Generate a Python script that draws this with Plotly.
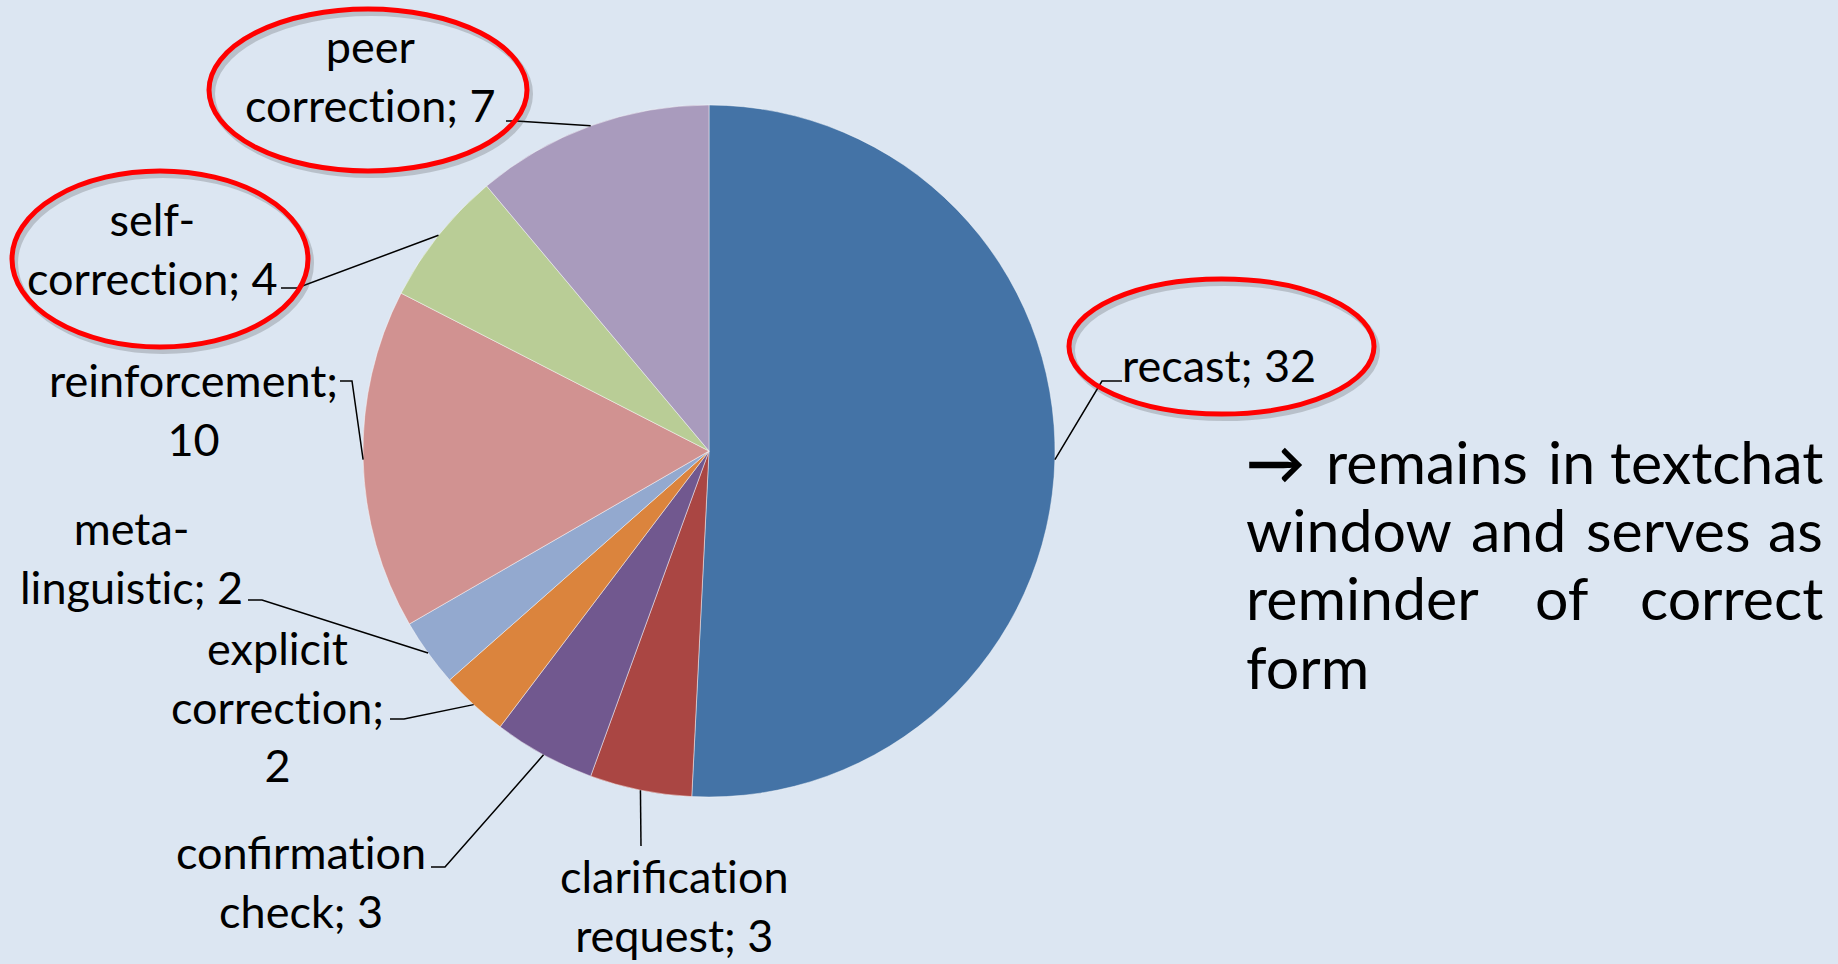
"""Pie chart of corrective feedback types in a textchat, with leader-line labels."""

import math
import plotly.graph_objects as go

# Data: feedback types in pie order (clockwise from 12 o'clock)
categories = ["recast", "clarification request", "confirmation check",
              "explicit correction", "meta-linguistic", "reinforcement",
              "self-correction", "peer correction"]
counts = [32, 3, 3, 2, 2, 10, 4, 7]
slice_colors = ["#4473A6", "#AA4643", "#71588F", "#DB843D",
                "#93A9CF", "#D19291", "#B9CD96", "#A99BBD"]

# how each data label is broken over lines ({n} = count)
label_formats = {
    "recast": "recast; {n}",
    "clarification request": "clarification<br>request; {n}",
    "confirmation check": "confirmation<br>check; {n}",
    "explicit correction": "explicit<br>correction;<br>{n}",
    "meta-linguistic": "meta-<br>linguistic; {n}",
    "reinforcement": "reinforcement;<br>{n}",
    "self-correction": "self-<br>correction; {n}",
    "peer correction": "peer<br>correction; {n}",
}
circled = ["peer correction", "self-correction", "recast"]

note_lines = [["\u2192", "remains", "in", "textchat"],
              ["window", "and", "serves", "as"],
              ["reminder", "of", "correct"],
              ["form"]]

# ---- layout (pixels) ----
W, H = 1838, 964
CX, CY, R = 709, 451, 346
BG = "#DCE6F2"
FONT = "Lato, Carlito, Calibri, sans-serif"

# label centre and the short horizontal tick the leader starts from
label_place = {
    "recast": dict(xy=(1219, 365), tick=(1122, 1102, 381)),
    "clarification request": dict(xy=(674, 905), tick=(641, 641, 846)),
    "confirmation check": dict(xy=(301, 881), tick=(431, 445, 867)),
    "explicit correction": dict(xy=(277, 706), tick=(390, 404, 719)),
    "meta-linguistic": dict(xy=(131, 557), tick=(248, 262, 600)),
    "reinforcement": dict(xy=(193, 409), tick=(340, 352, 381)),
    "self-correction": dict(xy=(152, 249), tick=(281, 297, 288)),
    "peer correction": dict(xy=(370, 76), tick=(506, 516, 121)),
}
ellipse_box = {
    "peer correction": (209, 9, 527, 171),
    "self-correction": (12, 171, 308, 347),
    "recast": (1069, 279, 1374, 414),
}
note_y = [461, 529, 597, 666]
note_left, note_right = 1244, 1825
note_mid_x = [[1427, 1571], [1518, 1668], [1562], []]


def px(x, y):
    return x / W, 1 - y / H


def no_lig(s):
    # keep Lato from joining "ti" into a ligature
    return s.replace("ti", "t\u200ci")


fig = go.Figure()

fig.add_trace(go.Pie(
    labels=categories,
    values=counts,
    sort=False,
    direction="clockwise",
    rotation=0,
    textinfo="none",
    hoverinfo="label+value+percent",
    marker=dict(colors=slice_colors, line=dict(color="rgba(255,255,255,0.45)", width=1)),
    domain=dict(x=[(CX - R) / W, (CX + R) / W], y=[1 - (CY + R) / H, 1 - (CY - R) / H]),
    showlegend=False,
))

shapes = []
annotations = []

# leader lines + labels
total = sum(counts)
cum = 0
for cat, n in zip(categories, counts):
    mid = (cum + n / 2) / total * 2 * math.pi
    cum += n
    ex, ey = CX + R * math.sin(mid), CY - R * math.cos(mid)
    p = label_place[cat]
    tx0, tx1, ty = p["tick"]
    pts = [px(tx0, ty), px(tx1, ty), px(ex, ey)]
    path = "M {} {} L {} {} L {} {}".format(*[c for pt in pts for c in pt])
    shapes.append(dict(type="path", xref="paper", yref="paper", path=path,
                       line=dict(color="black", width=1.5)))
    lx, ly = px(*p["xy"])
    annotations.append(dict(
        x=lx, y=ly, xref="paper", yref="paper", showarrow=False,
        text=no_lig(label_formats[cat].format(n=n)), align="center",
        xanchor="center", yanchor="middle",
        font=dict(family=FONT, size=45, color="black"),
    ))

# red highlight ellipses (with a soft shadow)
for cat in circled:
    x0, y0, x1, y1 = ellipse_box[cat]
    a0, b0 = px(x0 + 3, y1 + 4)
    a1, b1 = px(x1 + 3, y0 + 4)
    shapes.append(dict(type="circle", xref="paper", yref="paper",
                       x0=a0, y0=b0, x1=a1, y1=b1,
                       line=dict(color="rgba(60,60,60,0.22)", width=6)))
    a0, b0 = px(x0, y1)
    a1, b1 = px(x1, y0)
    shapes.append(dict(type="circle", xref="paper", yref="paper",
                       x0=a0, y0=b0, x1=a1, y1=b1,
                       line=dict(color="#FF0000", width=5)))

# justified note on the right
for i, words in enumerate(note_lines):
    ypos = 1 - note_y[i] / H
    last = len(words) - 1
    for j, w in enumerate(words):
        if j == 0:
            xpix, anchor = note_left, "left"
        elif j == last:
            xpix, anchor = note_right, "right"
        else:
            xpix, anchor = note_mid_x[i][j - 1], "center"
        txt = "<b>" + w + "</b>" if w == "\u2192" else w
        annotations.append(dict(
            x=xpix / W, y=ypos, xref="paper", yref="paper", showarrow=False,
            text=txt, xanchor=anchor, yanchor="middle",
            font=dict(family=FONT, size=59, color="black"),
        ))

fig.update_layout(
    width=W, height=H,
    margin=dict(l=0, r=0, t=0, b=0),
    paper_bgcolor=BG,
    plot_bgcolor=BG,
    shapes=shapes,
    annotations=annotations,
)

# drop the default page margin so the figure fills the window exactly
fig.write_html("out.html", config={"displayModeBar": False},
               post_script="document.body.style.margin='0';")
